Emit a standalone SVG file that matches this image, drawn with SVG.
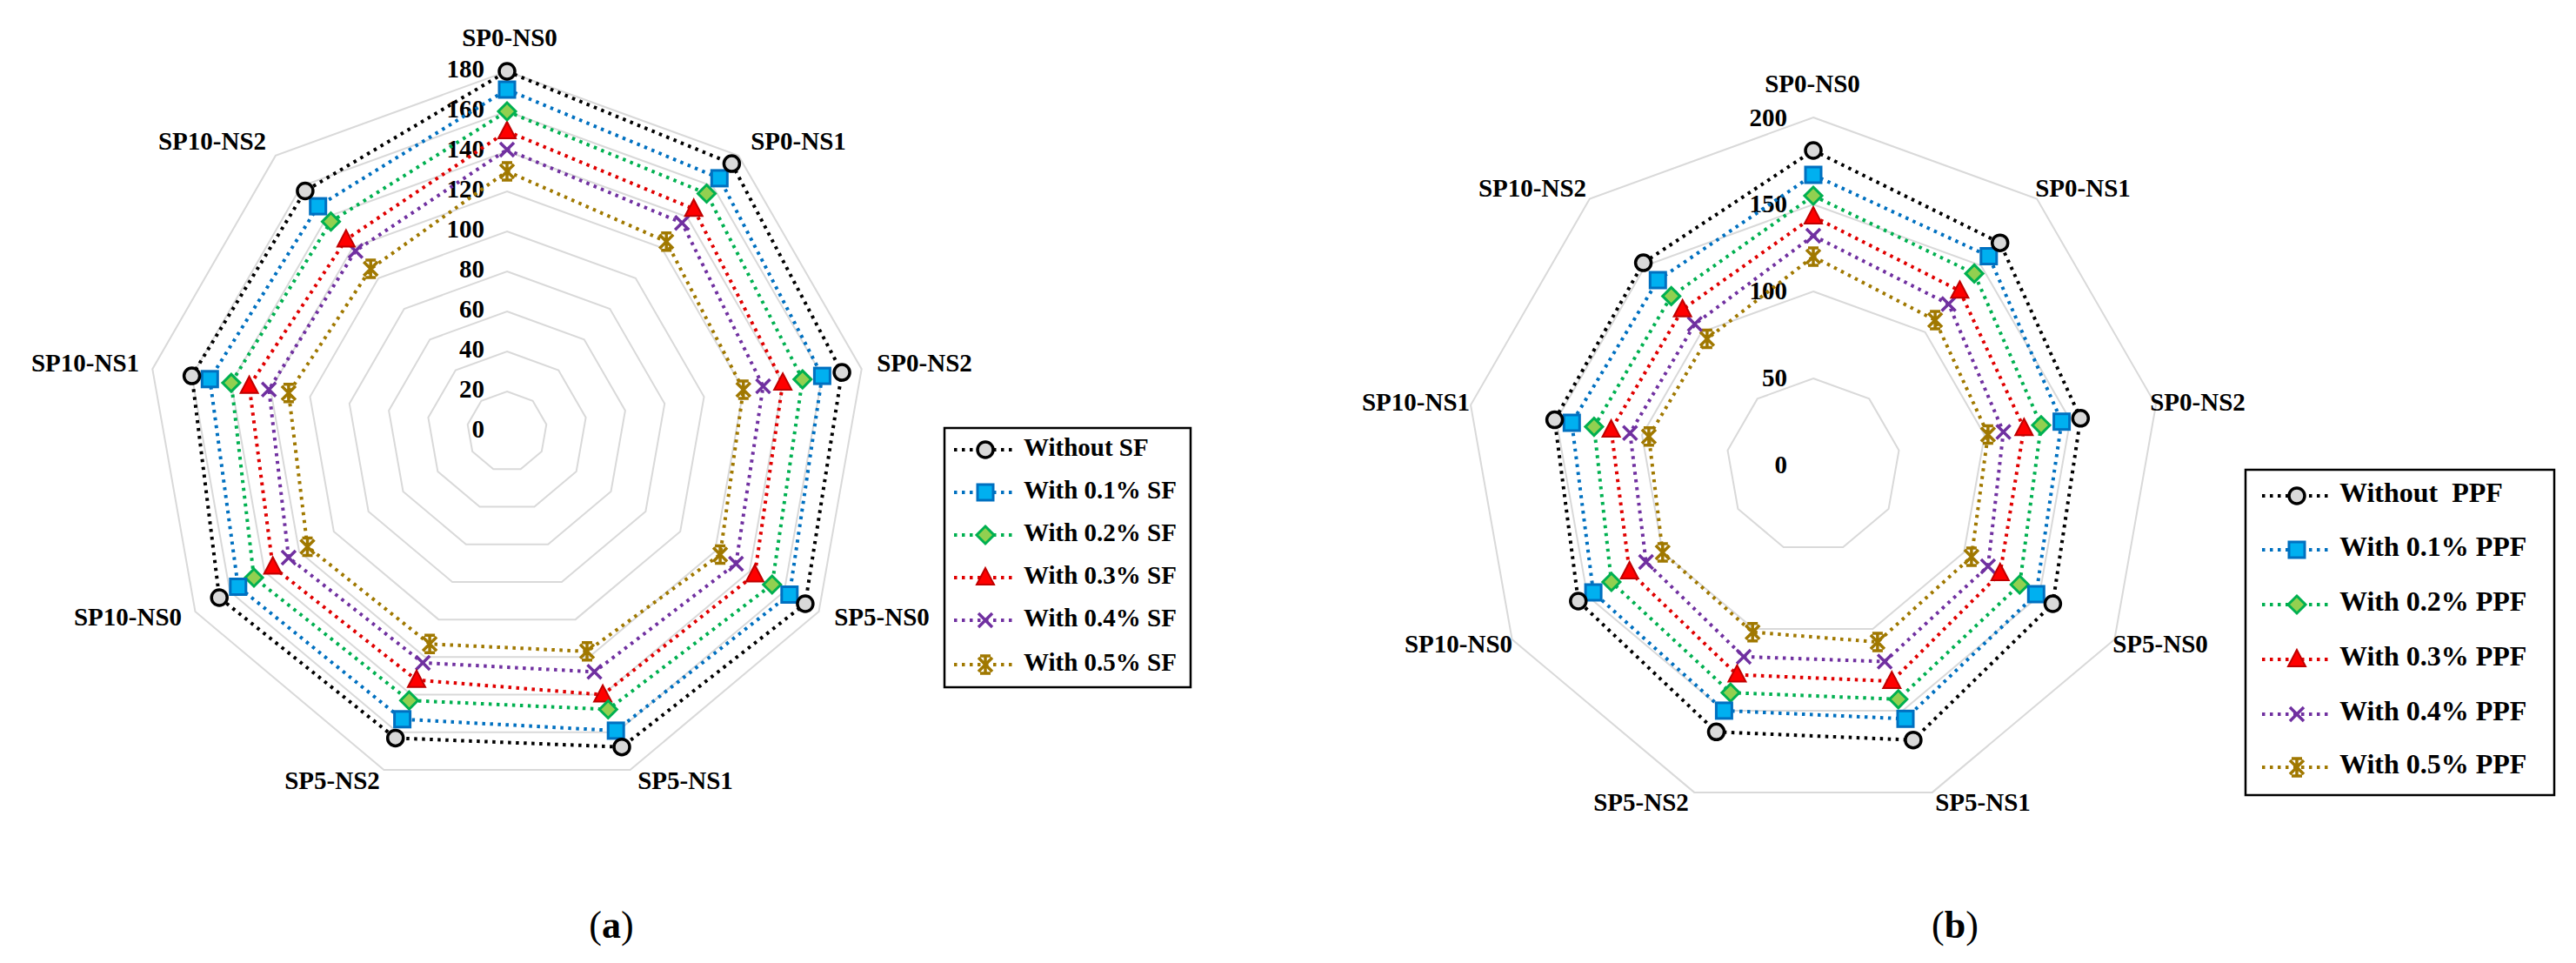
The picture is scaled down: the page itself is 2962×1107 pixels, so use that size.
<svg xmlns="http://www.w3.org/2000/svg" xmlns:xlink="http://www.w3.org/1999/xlink" width="2962" height="1107" viewBox="0 0 2962 1107">
<style>
text{font-family:"Liberation Serif","Times New Roman",serif;font-weight:bold;fill:#000}
.ax{font-size:29px;text-anchor:middle;dominant-baseline:middle}
.tk{font-size:29px;text-anchor:end;dominant-baseline:middle}
.lg{font-size:29px;dominant-baseline:middle}
.lgb{font-size:32px;dominant-baseline:middle}
.cap{font-size:44px;font-weight:normal;text-anchor:middle}
.grid{fill:none;stroke:#d9d9d9;stroke-width:2}
.s{fill:none;stroke-width:4;stroke-dasharray:3.5 5.5}
.s0{stroke:#000}.s1{stroke:#0070c0}.s2{stroke:#00b050}.s3{stroke:#e00000}.s4{stroke:#7030a0}.s5{stroke:#a07800}
.box{fill:#fff;stroke:#000;stroke-width:2.5}
</style>
<defs>
<polygon id="nona" points="0,-1 0.6428,-0.766 0.9848,-0.1736 0.866,0.5 0.342,0.9397 -0.342,0.9397 -0.866,0.5 -0.9848,-0.1736 -0.6428,-0.766" vector-effect="non-scaling-stroke"/>
<g id="mk0"><circle r="9" fill="#d9d9d9" stroke="#000" stroke-width="3.5"/></g>
<g id="mk1"><rect x="-9" y="-9" width="18" height="18" fill="#00b0f0" stroke="#0070c0" stroke-width="3"/></g>
<g id="mk2"><polygon points="0,-10 10,0 0,10 -10,0" fill="#92d050" stroke="#00b050" stroke-width="3"/></g>
<g id="mk3"><polygon points="0,-11 10,8 -10,8" fill="#ff0000" stroke="#c00000" stroke-width="2"/></g>
<g id="mk4"><path d="M-8,-8L8,8M8,-8L-8,8" stroke="#7030a0" stroke-width="3.5" fill="none"/></g>
<g id="mk5"><path d="M-8,-8L8,8M8,-8L-8,8M0,-10L0,10M-6,-10L6,-10M-6,10L6,10" stroke="#a07800" stroke-width="3.5" fill="none"/></g>
</defs>
<rect width="2962" height="1107" fill="#fff"/>

<g id="chart-a">
<g id="grid-a" class="grid">
<use href="#nona" transform="translate(583,496) scale(46)" class="grid"/>
<use href="#nona" transform="translate(583,496) scale(92)" class="grid"/>
<use href="#nona" transform="translate(583,496) scale(138)" class="grid"/>
<use href="#nona" transform="translate(583,496) scale(184)" class="grid"/>
<use href="#nona" transform="translate(583,496) scale(230)" class="grid"/>
<use href="#nona" transform="translate(583,496) scale(276)" class="grid"/>
<use href="#nona" transform="translate(583,496) scale(322)" class="grid"/>
<use href="#nona" transform="translate(583,496) scale(368)" class="grid"/>
<use href="#nona" transform="translate(583,496) scale(414)" class="grid"/>
</g>
<g id="ticks-a" class="tk">
<text class="tk" x="557" y="82">180</text><text class="tk" x="557" y="128">160</text><text class="tk" x="557" y="174">140</text><text class="tk" x="557" y="220">120</text><text class="tk" x="557" y="266">100</text><text class="tk" x="557" y="312">80</text><text class="tk" x="557" y="358">60</text><text class="tk" x="557" y="404">40</text><text class="tk" x="557" y="450">20</text><text class="tk" x="557" y="496">0</text>
</g>
<g id="series-a">
<polygon class="s s5" points="583,197 766.2,277.7 854.8,448.1 828.1,637.5 675,748.8 494.1,740.3 353.5,628.5 331.9,451.7 426.2,309.1"/>
<polygon class="s s4" points="583,172 784.2,256.2 877.5,444.1 846.3,648 683.5,772.3 486.2,761.9 331.9,641 309.2,447.7 408.8,288.4"/>
<polygon class="s s3" points="583,151 797.7,240.2 900.1,440.1 867.9,660.5 693.1,798.6 479,781.7 313.7,651.5 286.6,443.7 397.9,275.4"/>
<polygon class="s s2" points="583,128 812.5,222.5 922.8,436.1 887.8,672 699.3,815.5 470.5,805.2 292,664 265.9,440.1 380.5,254.7"/>
<polygon class="s s1" points="583,103 827.3,204.9 945.4,432.1 907.8,683.5 708.2,839.9 462.6,826.8 273.8,674.5 241.3,435.8 365.7,237.1"/>
<polygon class="s s0" points="583,82 841.4,188.1 968.1,428.1 925.9,694 715,858.7 454.7,848.4 252.2,687 220.6,432.1 350.9,219.5"/>
<use href="#mk5" x="583" y="197"/><use href="#mk5" x="766.2" y="277.7"/><use href="#mk5" x="854.8" y="448.1"/><use href="#mk5" x="828.1" y="637.5"/><use href="#mk5" x="675" y="748.8"/><use href="#mk5" x="494.1" y="740.3"/><use href="#mk5" x="353.5" y="628.5"/><use href="#mk5" x="331.9" y="451.7"/><use href="#mk5" x="426.2" y="309.1"/>
<use href="#mk4" x="583" y="172"/><use href="#mk4" x="784.2" y="256.2"/><use href="#mk4" x="877.5" y="444.1"/><use href="#mk4" x="846.3" y="648"/><use href="#mk4" x="683.5" y="772.3"/><use href="#mk4" x="486.2" y="761.9"/><use href="#mk4" x="331.9" y="641"/><use href="#mk4" x="309.2" y="447.7"/><use href="#mk4" x="408.8" y="288.4"/>
<use href="#mk3" x="583" y="151"/><use href="#mk3" x="797.7" y="240.2"/><use href="#mk3" x="900.1" y="440.1"/><use href="#mk3" x="867.9" y="660.5"/><use href="#mk3" x="693.1" y="798.6"/><use href="#mk3" x="479" y="781.7"/><use href="#mk3" x="313.7" y="651.5"/><use href="#mk3" x="286.6" y="443.7"/><use href="#mk3" x="397.9" y="275.4"/>
<use href="#mk2" x="583" y="128"/><use href="#mk2" x="812.5" y="222.5"/><use href="#mk2" x="922.8" y="436.1"/><use href="#mk2" x="887.8" y="672"/><use href="#mk2" x="699.3" y="815.5"/><use href="#mk2" x="470.5" y="805.2"/><use href="#mk2" x="292" y="664"/><use href="#mk2" x="265.9" y="440.1"/><use href="#mk2" x="380.5" y="254.7"/>
<use href="#mk1" x="583" y="103"/><use href="#mk1" x="827.3" y="204.9"/><use href="#mk1" x="945.4" y="432.1"/><use href="#mk1" x="907.8" y="683.5"/><use href="#mk1" x="708.2" y="839.9"/><use href="#mk1" x="462.6" y="826.8"/><use href="#mk1" x="273.8" y="674.5"/><use href="#mk1" x="241.3" y="435.8"/><use href="#mk1" x="365.7" y="237.1"/>
<use href="#mk0" x="583" y="82"/><use href="#mk0" x="841.4" y="188.1"/><use href="#mk0" x="968.1" y="428.1"/><use href="#mk0" x="925.9" y="694"/><use href="#mk0" x="715" y="858.7"/><use href="#mk0" x="454.7" y="848.4"/><use href="#mk0" x="252.2" y="687"/><use href="#mk0" x="220.6" y="432.1"/><use href="#mk0" x="350.9" y="219.5"/>
</g>
<g id="axis-labels-a">
<text class="ax" x="586" y="46">SP0-NS0</text><text class="ax" x="918" y="165">SP0-NS1</text><text class="ax" x="1063" y="420">SP0-NS2</text><text class="ax" x="1014" y="712">SP5-NS0</text><text class="ax" x="788" y="900">SP5-NS1</text><text class="ax" x="382" y="900">SP5-NS2</text><text class="ax" x="147" y="712">SP10-NS0</text><text class="ax" x="98" y="420">SP10-NS1</text><text class="ax" x="244" y="165">SP10-NS2</text>
</g>
<g id="legend-a">
<rect class="box" x="1086" y="492" width="283" height="298"/>
<line class="s s0" x1="1097" y1="517" x2="1168" y2="517"/><use href="#mk0" x="1133" y="517"/><text class="lg" x="1177" y="517">Without SF</text>
<line class="s s1" x1="1097" y1="566" x2="1168" y2="566"/><use href="#mk1" x="1133" y="566"/><text class="lg" x="1177" y="566">With 0.1% SF</text>
<line class="s s2" x1="1097" y1="615" x2="1168" y2="615"/><use href="#mk2" x="1133" y="615"/><text class="lg" x="1177" y="615">With 0.2% SF</text>
<line class="s s3" x1="1097" y1="664" x2="1168" y2="664"/><use href="#mk3" x="1133" y="664"/><text class="lg" x="1177" y="664">With 0.3% SF</text>
<line class="s s4" x1="1097" y1="713" x2="1168" y2="713"/><use href="#mk4" x="1133" y="713"/><text class="lg" x="1177" y="713">With 0.4% SF</text>
<line class="s s5" x1="1097" y1="764" x2="1168" y2="764"/><use href="#mk5" x="1133" y="764"/><text class="lg" x="1177" y="764">With 0.5% SF</text>
</g>
<text class="cap" x="703" y="1078">(<tspan font-weight="bold">a</tspan>)</text>
</g>

<g id="chart-b">
<g id="grid-b">
<use href="#nona" transform="translate(2085,535) scale(100)" class="grid"/>
<use href="#nona" transform="translate(2085,535) scale(200)" class="grid"/>
<use href="#nona" transform="translate(2085,535) scale(300)" class="grid"/>
<use href="#nona" transform="translate(2085,535) scale(400)" class="grid"/>
</g>
<g id="ticks-b">
<text class="tk" x="2055" y="138">200</text><text class="tk" x="2055" y="237">150</text><text class="tk" x="2055" y="337">100</text><text class="tk" x="2055" y="437">50</text><text class="tk" x="2055" y="537">0</text>
</g>
<g id="series-b">
<polygon class="s s5" points="2085,295 2225.1,368 2285.9,499.6 2266.9,640 2158.9,738 2015.2,726.7 1911.8,635 1895.9,501.7 1962.9,389.5"/>
<polygon class="s s4" points="2085,271 2240.6,349.6 2303.6,496.5 2285.9,651 2167.1,760.5 2005,754.9 1892.7,646 1874.3,497.8 1948.7,372.6"/>
<polygon class="s s3" points="2085,249 2253.4,334.3 2327.3,492.3 2299.8,659 2175.3,783.1 1997.4,775.6 1873.7,657 1852.6,494 1934.6,355.8"/>
<polygon class="s s2" points="2085,225 2270.1,314.4 2347,488.8 2322.3,672 2182.8,803.8 1989.9,796.2 1852.9,669 1832.9,490.6 1921.7,340.4"/>
<polygon class="s s1" points="2085,201 2286.8,294.5 2370.6,484.7 2341.3,683 2191,826.3 1982.4,816.9 1832.1,681 1807.3,486 1906.3,322"/>
<polygon class="s s0" points="2085,173 2299.7,279.2 2392.3,480.8 2360.4,694 2199.9,850.7 1973.5,841.3 1814.8,691 1787.6,482.6 1889.6,302.1"/>
<use href="#mk5" x="2085" y="295"/><use href="#mk5" x="2225.1" y="368"/><use href="#mk5" x="2285.9" y="499.6"/><use href="#mk5" x="2266.9" y="640"/><use href="#mk5" x="2158.9" y="738"/><use href="#mk5" x="2015.2" y="726.7"/><use href="#mk5" x="1911.8" y="635"/><use href="#mk5" x="1895.9" y="501.7"/><use href="#mk5" x="1962.9" y="389.5"/>
<use href="#mk4" x="2085" y="271"/><use href="#mk4" x="2240.6" y="349.6"/><use href="#mk4" x="2303.6" y="496.5"/><use href="#mk4" x="2285.9" y="651"/><use href="#mk4" x="2167.1" y="760.5"/><use href="#mk4" x="2005" y="754.9"/><use href="#mk4" x="1892.7" y="646"/><use href="#mk4" x="1874.3" y="497.8"/><use href="#mk4" x="1948.7" y="372.6"/>
<use href="#mk3" x="2085" y="249"/><use href="#mk3" x="2253.4" y="334.3"/><use href="#mk3" x="2327.3" y="492.3"/><use href="#mk3" x="2299.8" y="659"/><use href="#mk3" x="2175.3" y="783.1"/><use href="#mk3" x="1997.4" y="775.6"/><use href="#mk3" x="1873.7" y="657"/><use href="#mk3" x="1852.6" y="494"/><use href="#mk3" x="1934.6" y="355.8"/>
<use href="#mk2" x="2085" y="225"/><use href="#mk2" x="2270.1" y="314.4"/><use href="#mk2" x="2347" y="488.8"/><use href="#mk2" x="2322.3" y="672"/><use href="#mk2" x="2182.8" y="803.8"/><use href="#mk2" x="1989.9" y="796.2"/><use href="#mk2" x="1852.9" y="669"/><use href="#mk2" x="1832.9" y="490.6"/><use href="#mk2" x="1921.7" y="340.4"/>
<use href="#mk1" x="2085" y="201"/><use href="#mk1" x="2286.8" y="294.5"/><use href="#mk1" x="2370.6" y="484.7"/><use href="#mk1" x="2341.3" y="683"/><use href="#mk1" x="2191" y="826.3"/><use href="#mk1" x="1982.4" y="816.9"/><use href="#mk1" x="1832.1" y="681"/><use href="#mk1" x="1807.3" y="486"/><use href="#mk1" x="1906.3" y="322"/>
<use href="#mk0" x="2085" y="173"/><use href="#mk0" x="2299.7" y="279.2"/><use href="#mk0" x="2392.3" y="480.8"/><use href="#mk0" x="2360.4" y="694"/><use href="#mk0" x="2199.9" y="850.7"/><use href="#mk0" x="1973.5" y="841.3"/><use href="#mk0" x="1814.8" y="691"/><use href="#mk0" x="1787.6" y="482.6"/><use href="#mk0" x="1889.6" y="302.1"/>
</g>
<g id="axis-labels-b">
<text class="ax" x="2084" y="99">SP0-NS0</text><text class="ax" x="2395" y="219">SP0-NS1</text><text class="ax" x="2527" y="465">SP0-NS2</text><text class="ax" x="2484" y="743">SP5-NS0</text><text class="ax" x="2280" y="925">SP5-NS1</text><text class="ax" x="1887" y="925">SP5-NS2</text><text class="ax" x="1677" y="743">SP10-NS0</text><text class="ax" x="1628" y="465">SP10-NS1</text><text class="ax" x="1762" y="219">SP10-NS2</text>
</g>
<g id="legend-b">
<rect class="box" x="2582" y="540" width="355" height="374"/>
<line class="s s0" x1="2601" y1="570" x2="2682" y2="570"/><use href="#mk0" x="2641" y="570"/><text class="lgb" x="2690" y="570" xml:space="preserve">Without  PPF</text>
<line class="s s1" x1="2601" y1="632" x2="2682" y2="632"/><use href="#mk1" x="2641" y="632"/><text class="lgb" x="2690" y="632">With 0.1% PPF</text>
<line class="s s2" x1="2601" y1="695" x2="2682" y2="695"/><use href="#mk2" x="2641" y="695"/><text class="lgb" x="2690" y="695">With 0.2% PPF</text>
<line class="s s3" x1="2601" y1="758" x2="2682" y2="758"/><use href="#mk3" x="2641" y="758"/><text class="lgb" x="2690" y="758">With 0.3% PPF</text>
<line class="s s4" x1="2601" y1="821" x2="2682" y2="821"/><use href="#mk4" x="2641" y="821"/><text class="lgb" x="2690" y="821">With 0.4% PPF</text>
<line class="s s5" x1="2601" y1="882" x2="2682" y2="882"/><use href="#mk5" x="2641" y="882"/><text class="lgb" x="2690" y="882">With 0.5% PPF</text>
</g>
<text class="cap" x="2248" y="1078">(<tspan font-weight="bold">b</tspan>)</text>
</g>
</svg>
